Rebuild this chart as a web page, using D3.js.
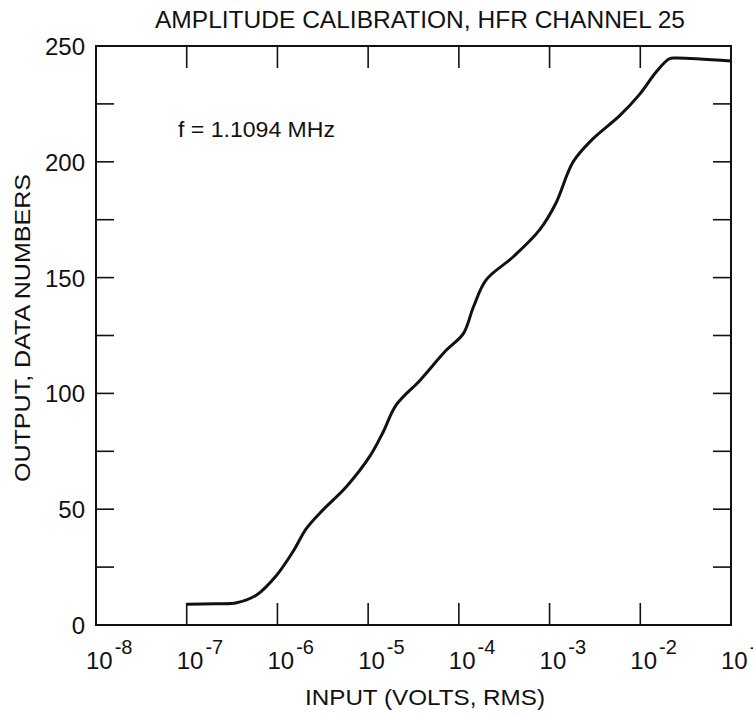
<!DOCTYPE html>
<html>
<head>
<meta charset="utf-8">
<script src="https://cdn.jsdelivr.net/npm/d3@7"></script>
<style>
body { margin:0; background:#fff; }
text { font-family:"Liberation Sans", Arial, sans-serif; fill:#111; }
</style>
</head>
<body>
<svg width="753" height="715"></svg>
<script>
// input voltage (V rms) and output (data numbers)
var input = [1.0e-7, 2.0e-7, 3.55e-7, 5.9e-7, 9.8e-7, 1.48e-6, 2.09e-6, 3.16e-6, 5.75e-6,
	1.05e-5, 1.45e-5, 2.04e-5, 3.72e-5, 7.24e-5, 1.12e-4, 1.45e-4, 2.0e-4, 3.98e-4,
	7.76e-4, 1.17e-3, 1.82e-3, 3.02e-3, 5.89e-3, 9.77e-3, 1.51e-2, 2.09e-2, 2.5e-2, 1.0e-1];
var output = [9, 9.2, 9.6, 13, 21.5, 31.6, 41.7, 49.6, 59.7,
	73, 83, 95, 105.6, 118.6, 125.8, 137.4, 149, 159,
	170.6, 182, 200, 210, 219.8, 229, 239, 244.5, 244.8, 243.5];

var xTicks = [1e-8, 1e-7, 1e-6, 1e-5, 1e-4, 1e-3, 1e-2, 1e-1];
var xExp = ["-8", "-7", "-6", "-5", "-4", "-3", "-2", "-1"];
var yTicks = [0, 50, 100, 150, 200, 250];
var yMinor = [25, 50, 75, 100, 125, 150, 175, 200, 225];

var L = 96, R = 731, T = 46, B = 625;

var x = d3.scaleLog().domain([1e-8, 1e-1]).range([L, R]);
var y = d3.scaleLinear().domain([0, 250]).range([B, T]);

var svg = d3.select("svg");

// frame
svg.append("rect")
	.attr("x", L).attr("y", T)
	.attr("width", R - L).attr("height", B - T)
	.attr("fill", "none").attr("stroke", "#111").attr("stroke-width", 2);

// inward ticks
var tk = svg.append("g").attr("stroke", "#111").attr("stroke-width", 1.6);
tk.selectAll(".xb").data(xTicks.slice(1, -1)).enter().append("line")
	.attr("x1", function(d){ return x(d) }).attr("x2", function(d){ return x(d) })
	.attr("y1", B).attr("y2", B - 22);
tk.selectAll(".xt").data(xTicks.slice(1, -1)).enter().append("line")
	.attr("x1", function(d){ return x(d) }).attr("x2", function(d){ return x(d) })
	.attr("y1", T).attr("y2", T + 22);
tk.selectAll(".yl").data(yMinor).enter().append("line")
	.attr("x1", L).attr("x2", L + 18)
	.attr("y1", function(d){ return y(d) }).attr("y2", function(d){ return y(d) });
tk.selectAll(".yr").data(yMinor).enter().append("line")
	.attr("x1", R).attr("x2", R - 18)
	.attr("y1", function(d){ return y(d) }).attr("y2", function(d){ return y(d) });

// y labels
svg.selectAll(".yt").data(yTicks).enter().append("text")
	.attr("x", L - 11)
	.attr("y", function(d){ return y(d) + 9 })
	.attr("text-anchor", "end")
	.attr("font-size", 24)
	.text(function(d){ return d });

// x labels 10^n
var xl = svg.selectAll(".xl").data(xTicks).enter().append("text")
	.attr("x", function(d){ return x(d) - 10 })
	.attr("y", 669)
	.attr("font-size", 24);
xl.append("tspan").text("10");
xl.append("tspan")
	.attr("dx", 2)
	.attr("dy", -15)
	.attr("font-size", 20)
	.text(function(d, i){ return xExp[i] });

// curve
var line = d3.line()
	.x(function(d, i){ return x(input[i]) })
	.y(function(d){ return y(d) })
	.curve(d3.curveCatmullRom.alpha(0.5));

svg.append("path")
	.datum(output)
	.attr("fill", "none")
	.attr("stroke", "#111")
	.attr("stroke-width", 3)
	.attr("d", line);

// texts
svg.append("text")
	.attr("x", 420).attr("y", 28)
	.attr("text-anchor", "middle")
	.attr("font-size", 24)
	.attr("textLength", 530).attr("lengthAdjust", "spacingAndGlyphs")
	.text("AMPLITUDE CALIBRATION, HFR CHANNEL 25");

svg.append("text")
	.attr("x", 178).attr("y", 137)
	.attr("font-size", 22)
	.attr("textLength", 157).attr("lengthAdjust", "spacingAndGlyphs")
	.text("f = 1.1094 MHz");

svg.append("text")
	.attr("x", 425).attr("y", 705)
	.attr("text-anchor", "middle")
	.attr("font-size", 22)
	.attr("textLength", 240).attr("lengthAdjust", "spacingAndGlyphs")
	.text("INPUT (VOLTS, RMS)");

svg.append("text")
	.attr("transform", "translate(30,328) rotate(-90)")
	.attr("text-anchor", "middle")
	.attr("font-size", 22)
	.attr("textLength", 308).attr("lengthAdjust", "spacingAndGlyphs")
	.text("OUTPUT, DATA NUMBERS");
</script>
</body>
</html>
